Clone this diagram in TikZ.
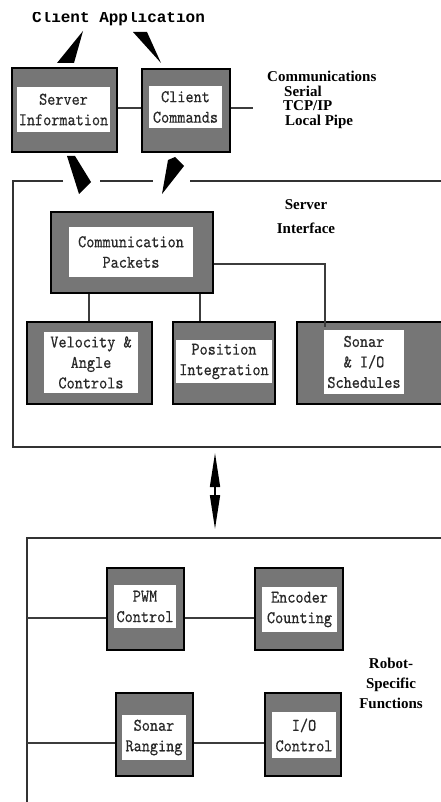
\documentclass[tikz,border=0pt]{standalone}
\usepackage{fontspec}
\newfontfamily\sidefont{Liberation Serif}
\newfontfamily\capfont{Liberation Mono}
\newfontfamily\boxfont{lmmono10-regular.otf}[FakeStretch=0.87,FakeBold=0.4]
\usetikzlibrary{arrows.meta}
\definecolor{boxgray}{RGB}{118,118,118}
\definecolor{framegray}{RGB}{50,50,50}
\definecolor{linegray}{RGB}{60,60,60}
\definecolor{txtgray}{RGB}{40,40,40}
\begin{document}
\begin{tikzpicture}[x=1pt,y=-1pt,
  outerbox/.style={draw=black, line width=1.3pt, fill=boxgray, inner sep=0pt},
  innerbox/.style={fill=white, draw=none, inner sep=0pt, align=center, text=txtgray,
    font=\boxfont\fontsize{17.8}{20.5}\selectfont},
  frame/.style={draw=framegray, line width=1.5pt},
  conn/.style={draw=linegray, line width=1.5pt},
  wedge/.style={fill=black},
  side/.style={font=\sidefont\bfseries\fontsize{15}{14.5}\selectfont, inner sep=0pt},
  dblarrow/.style={draw=black, line width=1.6pt, {Triangle[length=34pt,width=10pt]}-{Triangle[length=34pt,width=10pt]}}
]
\useasboundingbox (0,0) rectangle (441,802);
\fill[white] (0,0) rectangle (441,802);

% title
\begin{scope}
\clip (0,12.5) rectangle (441,40);
\node[font=\capfont\bfseries\fontsize{16}{16}\selectfont, anchor=base, inner sep=0pt, text=black] (title) at (118.5,23) {Client Application};
\end{scope}

% top boxes
\node[outerbox, minimum width=105pt, minimum height=84pt] (si) at (64.5,110) {};
\node[innerbox, minimum width=93pt, minimum height=45pt] (sit) at (63.5,109.5) {Server\\Information};
\node[outerbox, minimum width=88pt, minimum height=83pt] (cc) at (186,110.5) {};
\node[innerbox, minimum width=73pt, minimum height=42pt] (cct) at (185.5,107) {Client\\Commands};

\coordinate (c1) at (0,108);
\coordinate (commend) at (253,108);
\draw[conn] (c1 -| si.east) -- (c1 -| cc.west);
\draw[conn] (c1 -| cc.east) -- (commend);

% communications text
\node[side, anchor=north west, align=left] (comm) at (267,71) {Communications\\\hspace*{17pt}Serial\\\hspace*{16pt}TCP/IP\\\hspace*{18pt}Local Pipe};

% wedges (arrowheads)
\fill[wedge] (83,31) -- (57,63) -- (74,63) -- cycle;
\fill[wedge] (133,32) -- (147,32) -- (161,63) -- cycle;
\fill[wedge] (67,156) -- (75,156) -- (91,182) -- (79,194) -- cycle;
\fill[wedge] (168,160) -- (175,157) -- (184,166) -- (162,194) -- cycle;

% server interface frame
\draw[frame] (63,181) -- (13,181) -- (13,447) -- (446,447);
\draw[frame] (100,181) -- (153,181);
\draw[frame] (190,181) -- (446,181);

\node[side, font=\sidefont\bfseries\fontsize{15}{24}\selectfont, align=center] (sitxt) at (306,217) {Server\\Interface};

% communication packets
\node[outerbox, minimum width=162pt, minimum height=81pt] (cp) at (132,252.5) {};
\node[innerbox, minimum width=124pt, minimum height=50pt] (cpt) at (131,252) {Communication\\Packets};

\node[outerbox, minimum width=125pt, minimum height=82pt] (vel) at (89.5,363) {};
\node[innerbox, minimum width=94pt, minimum height=61pt] (velt) at (91,362.5) {Velocity \&\\Angle\\Controls};

\node[outerbox, minimum width=102pt, minimum height=82pt] (pos) at (224,363) {};
\node[innerbox, minimum width=96pt, minimum height=43pt] (post) at (224,361.5) {Position\\Integration};

\node[outerbox, minimum width=150pt, minimum height=82pt] (son) at (372,363) {};
\node[innerbox, minimum width=80pt, minimum height=64pt] (sont) at (364,362) {Sonar\\\& I/O\\Schedules};

\coordinate (x89) at (89,0);
\coordinate (x200) at (200,0);
\coordinate (y264) at (0,264);
\coordinate (sonbend) at (325,264);
\coordinate (sonend) at (325,327);
\draw[conn] (cp.south -| x89) -- (vel.north -| x89);
\draw[conn] (cp.south -| x200) -- (pos.north -| x200);
\draw[conn] (cp.east |- y264) -- (sonbend) -- (sonend);

% double arrow
\coordinate (dtop) at (215,453);
\coordinate (dbot) at (215,529);
\draw[dblarrow] (dtop) -- (dbot);

% robot frame
\draw[frame] (446,538) -- (27,538) -- (27,806);

\node[outerbox, minimum width=77pt, minimum height=82pt] (pwm) at (145.5,609) {};
\node[innerbox, minimum width=62pt, minimum height=43pt] (pwmt) at (145,606.5) {PWM\\Control};

\node[outerbox, minimum width=88pt, minimum height=82pt] (enc) at (299,609) {};
\node[innerbox, minimum width=75pt, minimum height=45pt] (enct) at (299.5,609.5) {Encoder\\Counting};

\node[outerbox, minimum width=77pt, minimum height=83pt] (sr) at (154.5,734.5) {};
\node[innerbox, minimum width=64pt, minimum height=45pt] (srt) at (154,737.5) {Sonar\\Ranging};

\node[outerbox, minimum width=76pt, minimum height=83pt] (io) at (303,734.5) {};
\node[innerbox, minimum width=64pt, minimum height=46pt] (iot) at (304,735) {I/O\\Control};

\coordinate (r1) at (27,618);
\coordinate (r2) at (27,743);
\draw[conn] (r1) -- (r1 -| pwm.west);
\draw[conn] (r1 -| pwm.east) -- (r1 -| enc.west);
\draw[conn] (r2) -- (r2 -| sr.west);
\draw[conn] (r2 -| sr.east) -- (r2 -| io.west);

\node[side, font=\sidefont\bfseries\fontsize{15}{20}\selectfont, align=center] (rsf) at (391,683) {Robot-\\Specific\\Functions};
\end{tikzpicture}
\end{document}
